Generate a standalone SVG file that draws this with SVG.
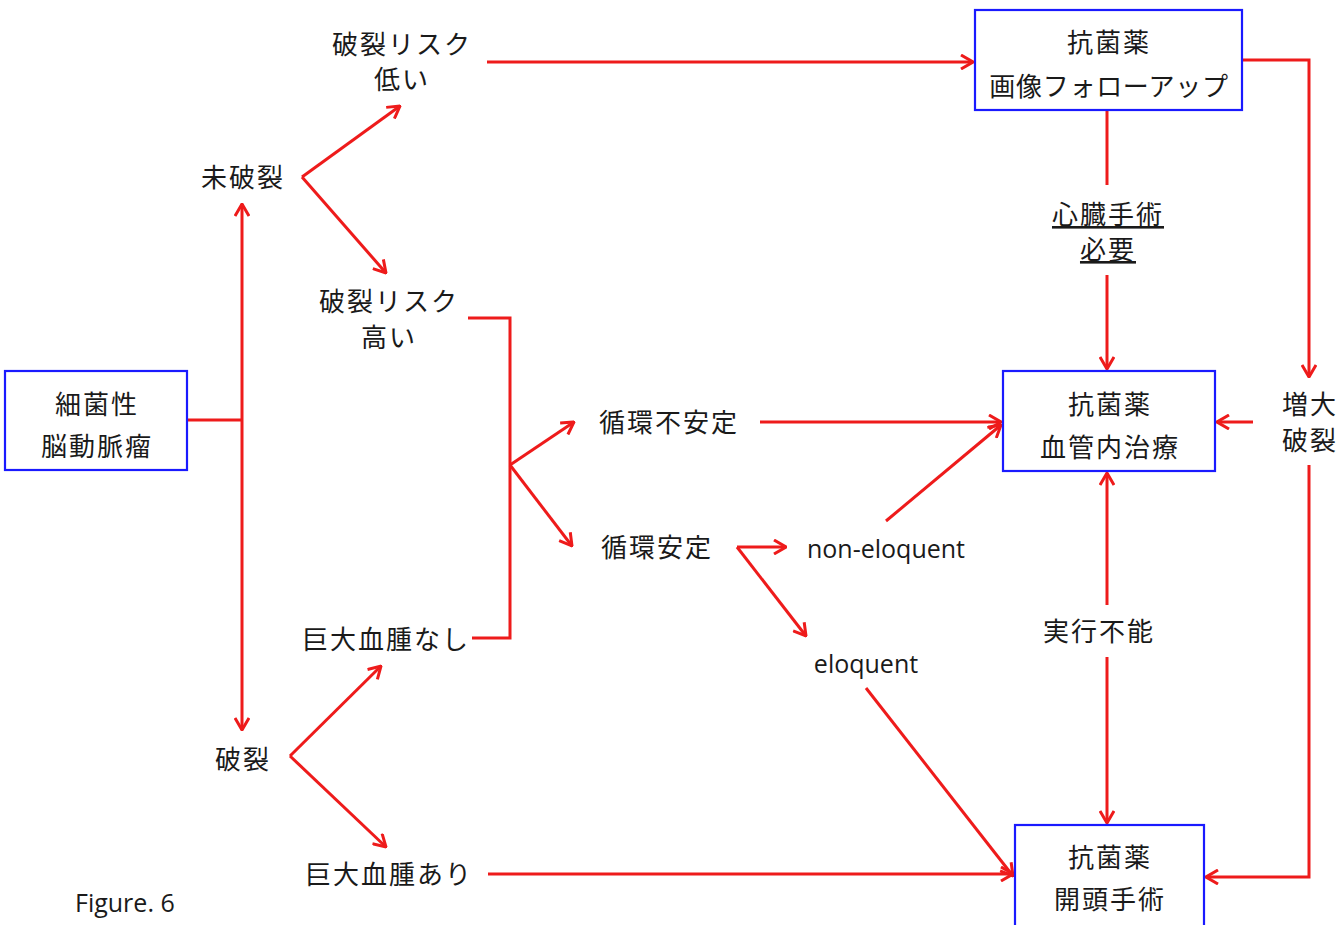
<svg xmlns="http://www.w3.org/2000/svg" width="1344" height="925" viewBox="0 0 1344 925">
<style>
.bx{fill:#fff;stroke:#1a1aff;stroke-width:2.2}
.t{font-family:"Noto Sans CJK JP","Noto Sans CJK SC",sans-serif;font-size:26px;letter-spacing:2px;fill:#1a1a1a;text-anchor:middle}
.l{font-family:"Open Sans","Liberation Sans",sans-serif;font-size:25px;fill:#1a1a1a;text-anchor:middle}
.c{fill:none;stroke:#ee1b1b;stroke-width:3;stroke-linejoin:miter}
.a{marker-end:url(#ah)}
</style>
<defs>
<marker id="ah" viewBox="0 0 14 16" refX="13" refY="8" markerWidth="14" markerHeight="16" markerUnits="userSpaceOnUse" orient="auto">
<path d="M1,1 L13,8 L1,15" fill="none" stroke="#ee1b1b" stroke-width="3"/>
</marker>
</defs>
<rect width="1344" height="925" fill="#fff"/>
<g id="connectors">
<path class="c" d="M187,420 H242"/>
<path class="c a" d="M242,420 V204"/>
<path class="c a" d="M242,420 V730"/>
<path class="c a" d="M302,177 L400,106"/>
<path class="c a" d="M302,177 L386,273"/>
<path class="c a" d="M487,62 H973"/>
<path class="c" d="M468,318 H510 V638 H472"/>
<path class="c a" d="M510,465 L574,422"/>
<path class="c a" d="M510,465 L572,546"/>
<path class="c a" d="M760,422 H1001"/>
<path class="c a" d="M737,547 H786"/>
<path class="c a" d="M737,547 L806,636"/>
<path class="c a" d="M886,521 L1001,425"/>
<path class="c a" d="M866,688 L1013,876"/>
<path class="c a" d="M488,874 H1013"/>
<path class="c a" d="M290,756 L381,666"/>
<path class="c a" d="M290,756 L386,847"/>
<path class="c" d="M1107,110 V185"/>
<path class="c a" d="M1107,275 V369"/>
<path class="c a" d="M1242,60 H1309 V377"/>
<path class="c a" d="M1253,422 H1217"/>
<path class="c a" d="M1309,465 V877 H1206"/>
<path class="c a" d="M1107,605 V473"/>
<path class="c a" d="M1107,657 V823"/>
</g>
<g id="n_start"><rect class="bx" x="5" y="371" width="182" height="99"/><text class="t" x="97" y="414">細菌性</text><text class="t" x="97" y="456">脳動脈瘤</text></g>
<g id="n_followup"><rect class="bx" x="975" y="10" width="267" height="100"/><text class="t" x="1109" y="52">抗菌薬</text><text class="t" x="1109" y="96" style="letter-spacing:0.7px">画像フォローアップ</text></g>
<g id="n_endo"><rect class="bx" x="1003" y="371" width="212" height="100"/><text class="t" x="1110" y="414">抗菌薬</text><text class="t" x="1110" y="457">血管内治療</text></g>
<g id="n_surg"><rect class="bx" x="1015" y="825" width="189" height="105"/><text class="t" x="1110" y="867">抗菌薬</text><text class="t" x="1110" y="909">開頭手術</text></g>
<g id="n_unrupt"><text class="t" x="243" y="187">未破裂</text></g>
<g id="n_low"><text class="t" x="402" y="54">破裂リスク</text><text class="t" x="402" y="89">低い</text></g>
<g id="n_high"><text class="t" x="389" y="311">破裂リスク</text><text class="t" x="389" y="347">高い</text></g>
<g id="n_unstable"><text class="t" x="669" y="432">循環不安定</text></g>
<g id="n_stable"><text class="t" x="657" y="557">循環安定</text></g>
<g id="n_noneloq"><text class="l" x="886" y="558">non-eloquent</text></g>
<g id="n_eloq"><text class="l" x="866" y="673">eloquent</text></g>
<g id="n_nohema"><text class="t" x="386" y="649">巨大血腫なし</text></g>
<g id="n_hema"><text class="t" x="389" y="884">巨大血腫あり</text></g>
<g id="n_rupt"><text class="t" x="243" y="769">破裂</text></g>
<g id="n_cardiac"><text class="t" x="1108" y="224" text-decoration="underline">心臓手術</text><text class="t" x="1108" y="259" text-decoration="underline">必要</text></g>
<g id="n_grow"><text class="t" x="1310" y="414">増大</text><text class="t" x="1310" y="450">破裂</text></g>
<g id="n_infeasible"><text class="t" x="1099" y="641">実行不能</text></g>
<text x="75" y="912" font-family="'Open Sans','Liberation Sans',sans-serif" font-size="25" fill="#1a1a1a">Figure. 6</text>
</svg>
